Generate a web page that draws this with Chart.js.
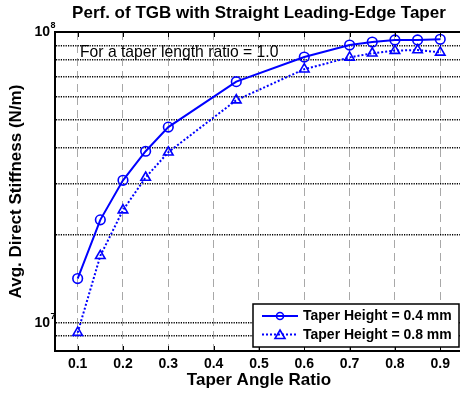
<!DOCTYPE html>
<html>
<head>
<meta charset="utf-8">
<script src="https://cdn.jsdelivr.net/npm/chart.js@4.4.1/dist/chart.umd.min.js"></script>
<style>
    html, body { margin: 0; padding: 0; background: #fff; overflow: hidden; }
    #wrap { width: 460px; height: 394px; overflow: hidden; }
</style>
</head>
<body>
<div id="wrap"><canvas id="grafico" width="470" height="394"></canvas></div>
<script>
// taper angle ratio vs averaged direct stiffness (N/m)
const angleRatio = [0.1, 0.15, 0.2, 0.25, 0.3, 0.45, 0.6, 0.7, 0.75, 0.8, 0.85, 0.9];
const stiffH04 = [1.42e7, 2.26e7, 3.09e7, 3.89e7, 4.71e7, 6.75e7, 8.2e7, 9.02e7, 9.24e7, 9.39e7, 9.39e7, 9.44e7];
const stiffH08 = [9.25e6, 1.70e7, 2.44e7, 3.16e7, 3.86e7, 5.83e7, 7.45e7, 8.18e7, 8.45e7, 8.63e7, 8.67e7, 8.51e7];
const seriesNames = ['Taper Height = 0.4 mm', 'Taper Height = 0.8 mm'];

const xTicks = [0.1, 0.2, 0.3, 0.4, 0.5, 0.6, 0.7, 0.8, 0.9];
const yGrid = [9e6, 1e7, 2e7, 3e7, 4e7, 5e7, 6e7, 7e7, 8e7, 9e7];
const yDecades = [7, 8];

const azul = '#0000ff';

function pontos(ys) {
    return angleRatio.map((x, i) => ({ x: x, y: ys[i] }));
}

// title, inner ticks, top frame, 10^n labels, note and legend
const extras = {
    id: 'extras',
    afterDraw(chart) {
        const ctx = chart.ctx;
        const area = chart.chartArea;
        const xs = chart.scales.x;
        const ys = chart.scales.y;
        ctx.save();

        // top frame line
        ctx.strokeStyle = '#000';
        ctx.lineWidth = 2;
        ctx.beginPath();
        ctx.moveTo(area.left - 1, area.top);
        ctx.lineTo(area.right + 1, area.top);
        ctx.stroke();

        // tick marks pointing into the plot
        ctx.lineWidth = 1;
        xTicks.forEach(v => {
            const px = Math.round(xs.getPixelForValue(v)) + 0.5;
            ctx.beginPath();
            ctx.moveTo(px, area.top);
            ctx.lineTo(px, area.top + 5);
            ctx.moveTo(px, area.bottom);
            ctx.lineTo(px, area.bottom - 5);
            ctx.stroke();
        });

        ctx.fillStyle = '#000';
        ctx.textBaseline = 'middle';

        // title
        ctx.font = 'bold 17px "Liberation Sans", Arial, sans-serif';
        ctx.textAlign = 'center';
        ctx.fillText('Perf. of TGB with Straight Leading-Edge Taper', (area.left + area.right) / 2, 13);

        // decade labels on the log axis
        yDecades.forEach(p => {
            const py = ys.getPixelForValue(Math.pow(10, p));
            ctx.font = 'bold 14px "Liberation Sans", Arial, sans-serif';
            ctx.textAlign = 'right';
            ctx.fillText('10', area.left - 5, py);
            ctx.font = 'bold 9px "Liberation Sans", Arial, sans-serif';
            ctx.textAlign = 'left';
            ctx.fillText(String(p), area.left - 4.5, py - 6);
        });

        // note
        ctx.font = '15.7px "Liberation Sans", Arial, sans-serif';
        ctx.textAlign = 'left';
        ctx.fillText('For a taper length ratio = 1.0', 80, 52.5);

        // legend
        const lx = 253, ly = 304, lw = 206, lh = 43;
        ctx.fillStyle = '#fff';
        ctx.fillRect(lx, ly, lw, lh);
        ctx.strokeStyle = '#000';
        ctx.lineWidth = 1.5;
        ctx.strokeRect(lx, ly, lw, lh);
        chart.data.datasets.forEach((ds, i) => {
            const ry = ly + 12 + i * 18.5;
            ctx.strokeStyle = ds.borderColor;
            ctx.lineWidth = ds.borderWidth;
            ctx.setLineDash(ds.borderDash || []);
            ctx.beginPath();
            ctx.moveTo(lx + 9, ry);
            ctx.lineTo(lx + 45, ry);
            ctx.stroke();
            ctx.setLineDash([]);
            ctx.lineWidth = ds.pointBorderWidth;
            ctx.beginPath();
            if (ds.pointStyle === 'circle') {
                ctx.arc(lx + 27, ry, 3.5, 0, Math.PI * 2);
            } else {
                ctx.moveTo(lx + 27, ry - 4.5);
                ctx.lineTo(lx + 32, ry + 4);
                ctx.lineTo(lx + 22, ry + 4);
                ctx.closePath();
            }
            ctx.stroke();
            ctx.fillStyle = '#000';
            ctx.font = 'bold 14px "Liberation Sans", Arial, sans-serif';
            ctx.textAlign = 'left';
            ctx.fillText(ds.label, lx + 50, ry + 0.5);
        });

        ctx.restore();
    }
};

const ctx = document.getElementById('grafico').getContext('2d');
const myChart = new Chart(ctx, {
    type: 'line',
    data: {
        datasets: [{
            label: seriesNames[0],
            data: pontos(stiffH04),
            borderColor: azul,
            borderWidth: 2,
            pointStyle: 'circle',
            pointRadius: 4.8,
            pointBorderWidth: 1.6,
            pointBorderColor: azul,
            pointBackgroundColor: 'rgba(0,0,0,0)',
            tension: 0
        }, {
            label: seriesNames[1],
            data: pontos(stiffH08),
            borderColor: azul,
            borderWidth: 2,
            borderDash: [2, 2],
            pointStyle: 'triangle',
            pointRadius: 5.5,
            pointBorderWidth: 1.6,
            pointBorderColor: azul,
            pointBackgroundColor: 'rgba(0,0,0,0)',
            tension: 0
        }]
    },
    options: {
        responsive: false,
        animation: false,
        layout: { padding: { left: 0, right: 7, top: 32, bottom: 0 } },
        plugins: {
            legend: { display: false },
            tooltip: { enabled: false }
        },
        scales: {
            x: {
                type: 'linear',
                min: 0.05,
                max: 0.95,
                afterBuildTicks: (scale) => { scale.ticks = xTicks.map(v => ({ value: v })); },
                afterFit: (scale) => { scale.height = 43; },
                ticks: {
                    color: '#000',
                    padding: 5,
                    font: { family: '"Liberation Sans", Arial, sans-serif', size: 14, weight: 'bold' },
                    callback: (v) => v.toFixed(1)
                },
                grid: { color: '#a8a8a8', lineWidth: 1, drawTicks: false },
                border: { display: true, color: '#000', width: 2, dash: [8, 5] },
                title: {
                    display: true,
                    text: 'Taper Angle Ratio',
                    color: '#000',
                    padding: { top: 0, bottom: 3.5 },
                    font: { family: '"Liberation Sans", Arial, sans-serif', size: 17, weight: 'bold' }
                }
            },
            y: {
                type: 'logarithmic',
                min: 8e6,
                max: 1e8,
                afterBuildTicks: (scale) => { scale.ticks = yGrid.map(v => ({ value: v })); },
                afterFit: (scale) => { scale.width = 55; },
                ticks: { display: false },
                grid: { color: '#000', lineWidth: 1.6, drawTicks: false },
                border: { display: true, color: '#000', width: 2, dash: [1.2, 1.2] },
                title: {
                    display: true,
                    text: 'Avg. Direct Stiffness (N/m)',
                    color: '#000',
                    padding: { top: 6, bottom: 0 },
                    font: { family: '"Liberation Sans", Arial, sans-serif', size: 17, weight: 'bold' }
                }
            }
        }
    },
    plugins: [extras]
});
</script>
</body>
</html>
